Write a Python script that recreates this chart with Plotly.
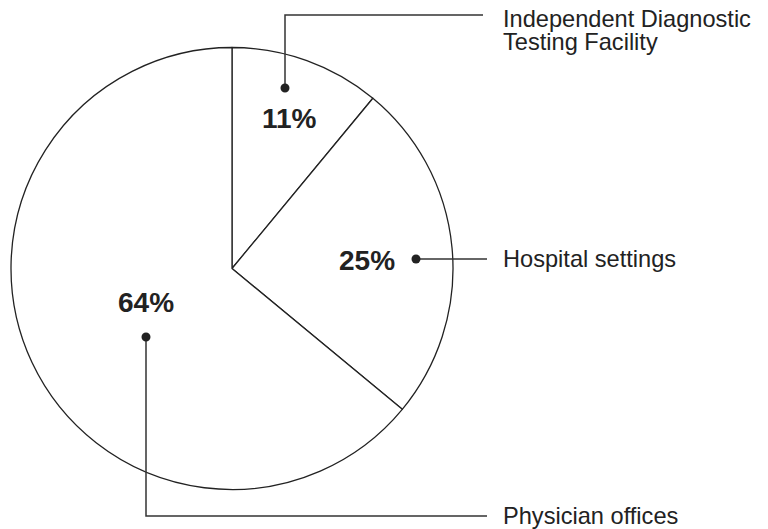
import plotly.graph_objects as go

# share of sites (clockwise from 12 o'clock)
labels = ["Independent Diagnostic Testing Facility", "Hospital settings", "Physician offices"]
values = [11, 25, 64]
pct_text = ["11%", "25%", "64%"]

W, H = 768, 529
INK = "#222222"


def px(x):
    return x / W


def py(y):
    return 1 - y / H


fig = go.Figure()
fig.add_trace(go.Pie(
    labels=labels, values=values,
    sort=False, direction="clockwise", rotation=0,
    textinfo="none", hoverinfo="label+percent",
    marker=dict(colors=["white"] * 3, line=dict(color=INK, width=1.3)),
    domain=dict(x=[px(11), px(453)], y=[py(490), py(47)]),
    showlegend=False,
))

# leader lines (pixel paths) and dots
leaders = [
    [(285, 88), (285, 15), (483, 15)],
    [(416, 259), (487, 259)],
    [(146, 337), (146, 516), (487, 516)],
]
shapes = []
for pts in leaders:
    path = "M " + " L ".join(f"{px(x)},{py(y)}" for x, y in pts)
    shapes.append(dict(type="path", xref="paper", yref="paper", path=path,
                       line=dict(color="#333333", width=1.5)))
    x0, y0 = pts[0]
    shapes.append(dict(type="circle", xref="paper", yref="paper",
                       x0=px(x0 - 4.5), x1=px(x0 + 4.5), y0=py(y0 + 4.5), y1=py(y0 - 4.5),
                       fillcolor=INK, line=dict(color=INK, width=0)))

annotations = []
pct_pos = [(289, 118), (367, 260), (146, 302)]
for t, (x, y) in zip(pct_text, pct_pos):
    annotations.append(dict(text=f"<b>{t}</b>", x=px(x), y=py(y), xref="paper", yref="paper",
                            xanchor="center", yanchor="middle", showarrow=False,
                            font=dict(size=28, color=INK, family="Liberation Sans, Arial")))

label_lines = [("Independent Diagnostic", 19), ("Testing Facility", 42),
               ("Hospital settings", 259), ("Physician offices", 516)]
for t, y in label_lines:
    annotations.append(dict(text=t, x=px(501), y=py(y), xref="paper", yref="paper",
                            xanchor="left", yanchor="middle", showarrow=False,
                            font=dict(size=23.6, color=INK, family="Liberation Sans, Arial")))

fig.update_layout(
    width=W, height=H,
    margin=dict(l=0, r=0, t=0, b=0),
    paper_bgcolor="white", plot_bgcolor="white",
    shapes=shapes, annotations=annotations,
)

# drop the default page margin so the figure sits at the window corner
fig.write_html("out.html", config={"displayModeBar": False},
               post_script="document.body.style.margin='0';document.body.style.overflow='hidden';")
